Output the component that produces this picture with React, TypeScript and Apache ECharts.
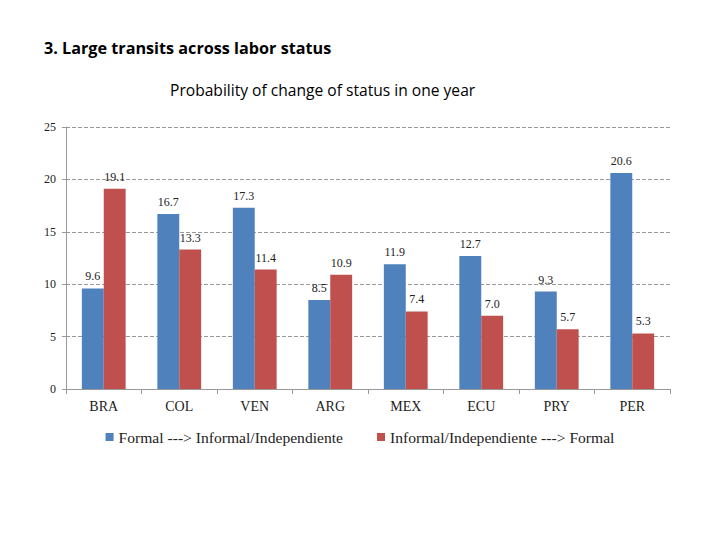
import React, { useEffect, useRef } from "react";
import * as echarts from "echarts";

const categories = ["BRA", "COL", "VEN", "ARG", "MEX", "ECU", "PRY", "PER"];
const formalToInformal = [9.6, 16.7, 17.3, 8.5, 11.9, 12.7, 9.3, 20.6];
const informalToFormal = [19.1, 13.3, 11.4, 10.9, 7.4, 7.0, 5.7, 5.3];
const seriesNames = ["Formal ---> Informal/Independiente", "Informal/Independiente ---> Formal"];
const titleText = "3. Large transits across labor status";
const subtitleText = "Probability of change of status in one year";

export default function App() {
  const ref = useRef<HTMLDivElement>(null);
  useEffect(() => {
    if (!ref.current) return;
    const chart = echarts.init(ref.current, null, { renderer: "svg" });
    const serif = "'Liberation Serif', 'DejaVu Serif', serif";
    const labelStyle = {
      show: true,
      position: "top",
      distance: 6,
      fontFamily: serif,
      fontSize: 12,
      color: "#222",
      formatter: (p: any) => Number(p.value).toFixed(1),
    };
    chart.setOption({
      animation: false,
      backgroundColor: "#ffffff",
      graphic: [
        {
          type: "text",
          left: 44,
          top: 40,
          style: {
            text: titleText,
            fontFamily: "'Open Sans', 'Liberation Sans', sans-serif",
            fontWeight: "bold",
            fontSize: 16.2,
            fill: "#000",
          },
        },
        {
          type: "text",
          left: 170,
          top: 82,
          style: {
            text: subtitleText,
            fontFamily: "'Open Sans', 'Liberation Sans', sans-serif",
            fontSize: 15.6,
            fill: "#000",
          },
        },
      ],
      legend: {
        top: 424,
        left: "center",
        itemWidth: 8,
        itemHeight: 8,
        itemGap: 34,
        icon: "rect",
        textStyle: { fontFamily: serif, fontSize: 15.6, color: "#222" },
        data: seriesNames,
      },
      grid: { left: 66, right: 50, top: 127, bottom: 151, containLabel: false },
      xAxis: {
        type: "category",
        data: categories,
        axisLine: { lineStyle: { color: "#999" } },
        axisTick: { show: true, length: 5, lineStyle: { color: "#999" } },
        axisLabel: { fontFamily: serif, fontSize: 14, color: "#222", margin: 10 },
      },
      yAxis: {
        type: "value",
        min: 0,
        max: 25,
        interval: 5,
        axisLine: { show: true, lineStyle: { color: "#999" } },
        axisTick: { show: true, length: 4, lineStyle: { color: "#999" } },
        axisLabel: { fontFamily: serif, fontSize: 12, color: "#222", margin: 10 },
        splitLine: { lineStyle: { color: "#999", type: "dashed" } },
      },
      series: [
        {
          name: seriesNames[0],
          type: "bar",
          data: formalToInformal,
          itemStyle: { color: "#4F81BD" },
          barGap: "0%",
          barCategoryGap: "42%",
          label: labelStyle,
        },
        {
          name: seriesNames[1],
          type: "bar",
          data: informalToFormal,
          itemStyle: { color: "#C0504D" },
          barGap: "0%",
          barCategoryGap: "42%",
          label: labelStyle,
        },
      ],
    });
    return () => chart.dispose();
  }, []);
  return (
    <div
      ref={ref}
      style={{ position: "fixed", left: 0, top: 0, width: 720, height: 540 }}
    />
  );
}
